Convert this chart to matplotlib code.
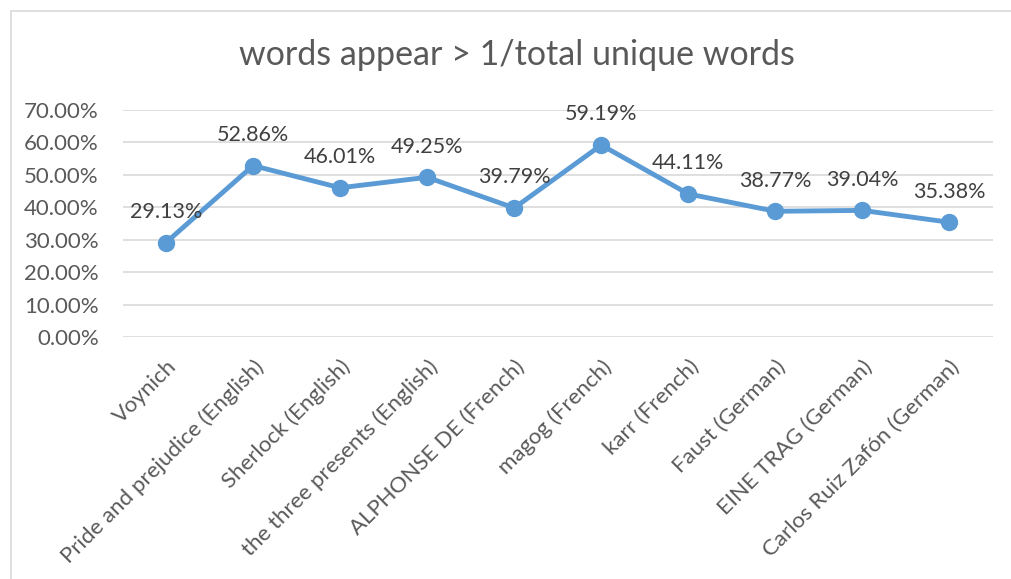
import matplotlib
matplotlib.use("Agg")
import matplotlib.pyplot as plt
from matplotlib.patches import Rectangle
from matplotlib.ticker import FuncFormatter

categories = ["Voynich", "Pride and prejudice (English)", "Sherlock (English)",
              "the three presents (English)", "ALPHONSE DE (French)", "magog (French)",
              "karr (French)", "Faust (German)", "EINE TRAG (German)",
              "Carlos Ruiz Zafón (German)"]
values = [0.2913, 0.5286, 0.4601, 0.4925, 0.3979, 0.5919, 0.4411, 0.3877, 0.3904, 0.3538]
yticks = [0.0, 0.1, 0.2, 0.3, 0.4, 0.5, 0.6, 0.7]
title = "words appear > 1/total unique words"

plt.rcParams['font.family'] = ['Lato', 'DejaVu Sans']
txt = '#595959'
W, H = 1011, 579
fig = plt.figure(figsize=(W / 100, H / 100), dpi=100)
fig.patch.set_facecolor('white')
fig.patches.append(Rectangle((11 / W, -0.1), 1.2, 1 - 11 / H + 0.1, transform=fig.transFigure,
                             fill=False, edgecolor='#D9D9D9', linewidth=1.2))

ax = fig.add_axes([122.5 / W, (H - 337) / H, 870.5 / W, 227 / H])
x = list(range(len(categories)))
ax.plot(x, values, color='#5B9BD5', linewidth=3.5, marker='o', markersize=11.5, zorder=3,
        solid_capstyle='round')
for xi, v in zip(x, values):
    ax.annotate(f"{v*100:.2f}%", (xi, v), xytext=(0, 22), textcoords='offset points',
                ha='center', va='center', fontsize=15.5, color='#404040')

ax.set_xlim(-0.5, len(categories) - 0.5)
ax.set_ylim(0, 0.7)
ax.set_yticks(yticks)
ax.yaxis.set_major_formatter(FuncFormatter(lambda v, p: f"{v*100:.2f}%"))
ax.grid(axis='y', color='#D9D9D9', linewidth=1.2)
ax.set_axisbelow(True)
for s in ax.spines.values():
    s.set_visible(False)
ax.tick_params(axis='both', length=0, labelsize=16, labelcolor=txt)
ax.tick_params(axis='y', pad=17)
ax.set_xticks(x)
ax.set_xticklabels(categories, rotation=45, ha='right', rotation_mode='anchor')
ax.tick_params(axis='x', pad=14)

fig.text(517 / W, 1 - 55 / H, title, ha='center', va='center', fontsize=24.5, color=txt)

fig.savefig('out.png', dpi=100)
